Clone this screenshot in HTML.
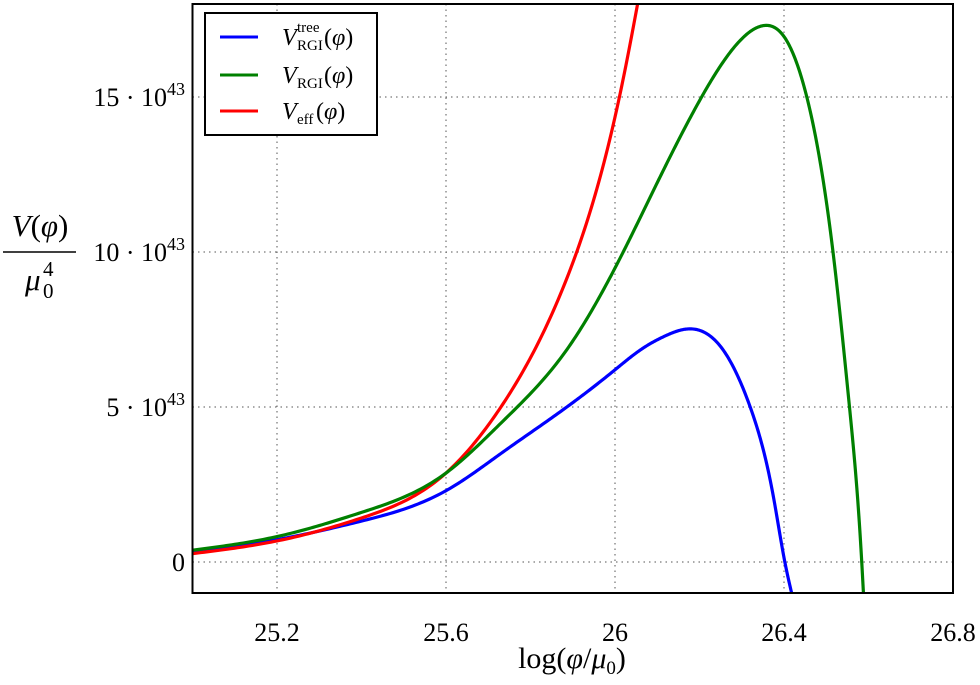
<!DOCTYPE html>
<html><head><meta charset="utf-8"><style>
body{margin:0;background:#fff;}
svg text{font-family:"Liberation Serif",serif;fill:#000;}
</style></head><body>
<svg id="chart" width="980" height="680" xmlns="http://www.w3.org/2000/svg">
<defs><clipPath id="clip"><rect x="192.5" y="4" width="760.5" height="589"/></clipPath></defs>
<g id="grid"></g>
<g id="series" clip-path="url(#clip)"></g>
<rect x="192.5" y="4" width="760.5" height="589" fill="none" stroke="#000" stroke-width="2"/>
<g id="ticks"></g>
<g>
<text x="40" y="236" font-size="31" text-anchor="middle"><tspan font-style="italic">V</tspan>(<tspan font-style="italic">φ</tspan>)</text>
<line x1="3" y1="252" x2="76" y2="252" stroke="#000" stroke-width="1.5"/>
<text x="25" y="290" font-size="31" font-style="italic">μ</text>
<text x="43" y="298" font-size="21">0</text>
<text x="43" y="276" font-size="21">4</text>
</g>
<text x="572" y="668" font-size="30" text-anchor="middle">log(<tspan font-style="italic">φ</tspan>/<tspan font-style="italic">μ</tspan><tspan font-size="19" dy="6">0</tspan><tspan dy="-6">)</tspan></text>
<g>
<rect x="205" y="13" width="172" height="122" fill="#fff" stroke="#000" stroke-width="2"/>
<g><line x1="220" y1="37" x2="258" y2="37" stroke="#0000ff" stroke-width="3"/>
<text x="282" y="45" font-size="24" font-style="italic">V</text>
<text x="297" y="50" font-size="15">RGI</text>
<text x="297" y="32" font-size="15">tree</text>
<text x="324" y="45" font-size="24">(<tspan font-style="italic">φ</tspan>)</text></g>
<g><line x1="220" y1="75" x2="258" y2="75" stroke="#008000" stroke-width="3"/>
<text x="282" y="83" font-size="24" font-style="italic">V</text>
<text x="297" y="88" font-size="15">RGI</text>
<text x="324" y="83" font-size="24">(<tspan font-style="italic">φ</tspan>)</text></g>
<g><line x1="220" y1="111" x2="258" y2="111" stroke="#ff0000" stroke-width="3"/>
<text x="282" y="119" font-size="24" font-style="italic">V</text>
<text x="297" y="124" font-size="15">eff</text>
<text x="316" y="119" font-size="24">(<tspan font-style="italic">φ</tspan>)</text></g>
</g>
</svg>
<script>
const xTicks=[25.2,25.6,26,26.4,26.8];
const xTickLabels=["25.2","25.6","26","26.4","26.8"];
const yTicks=[0,5,10,15];
const yTickLabels=["0","5","10","15"];
const treeX=[25.0,25.2,25.4,25.6,25.73,25.886,26.0,26.06,26.12,26.175,26.256,26.32,26.375,26.402,26.418];
const treeY=[0.3,0.72,1.32,2.3,3.5,5.0,6.2,6.84,7.3,7.52,6.84,5.0,2.1,0,-1];
const rgiX=[25.0,25.2,25.4,25.6,25.73,25.886,26.012,26.107,26.205,26.288,26.35,26.40,26.454,26.516,26.555,26.584,26.588];
const rgiY=[0.38,0.82,1.6,2.87,4.48,6.85,9.8,12.43,15.0,16.7,17.3,16.95,15.0,10.0,5.0,0,-1];
const effX=[25.0,25.2,25.4,25.6,25.73,25.886,26.012,26.08];
const effY=[0.27,0.68,1.42,2.87,5.0,9.15,15.1,20.0];
const X0=25,X1=26.8,Y0=-1,Y1=18,L=192.5,R=953,T=4,B=593;
const sx=v=>L+(v-X0)/(X1-X0)*(R-L);
const sy=v=>B-(v-Y0)/(Y1-Y0)*(B-T);
const NS="http://www.w3.org/2000/svg";
function mk(t,a,p){const e=document.createElementNS(NS,t);for(const k in a)e.setAttribute(k,a[k]);p.appendChild(e);return e;}
const grid=document.getElementById('grid'),ticks=document.getElementById('ticks'),ser=document.getElementById('series');
xTicks.forEach((v,i)=>{
 const g=mk('line',{x1:sx(v),x2:sx(v),y1:T,y2:B,stroke:'#555','stroke-width':1,'stroke-dasharray':'1.5,4'},grid);
 
 
 const t=mk('text',{x:sx(v),y:641,'font-size':26,'text-anchor':'middle'},ticks);
 t.textContent=xTickLabels[i];
 
 
});
yTicks.forEach((v,i)=>{
 const g=mk('line',{x1:L,x2:R,y1:sy(v),y2:sy(v),stroke:'#555','stroke-width':1,'stroke-dasharray':'1.5,4'},grid);
 
 
 const t=mk('text',{x:185,y:sy(v)+9,'font-size':26,'text-anchor':'end'},ticks);
 if(v===0){t.textContent=yTickLabels[i];}
 else{t.innerHTML=yTickLabels[i]+' · 10<tspan font-size="18" dy="-11">43</tspan>';}
 
 
});
function spline(xs,ys){
 const n=xs.length,h=[],al=[0],l=[1],mu=[0],z=[0],c=new Array(n).fill(0),b=[],d=[];
 for(let i=0;i<n-1;i++)h.push(xs[i+1]-xs[i]);
 for(let i=1;i<n-1;i++)al.push(3/h[i]*(ys[i+1]-ys[i])-3/h[i-1]*(ys[i]-ys[i-1]));
 for(let i=1;i<n-1;i++){l[i]=2*(xs[i+1]-xs[i-1])-h[i-1]*mu[i-1];mu[i]=h[i]/l[i];z[i]=(al[i]-h[i-1]*z[i-1])/l[i];}
 for(let j=n-2;j>=0;j--){if(j>0)c[j]=z[j]-mu[j]*c[j+1];b[j]=(ys[j+1]-ys[j])/h[j]-h[j]*(c[j+1]+2*c[j])/3;d[j]=(c[j+1]-c[j])/(3*h[j]);}
 let pts=[];
 for(let j=0;j<n-1;j++){for(let k=0;k<30;k++){const t=h[j]*k/30;pts.push([sx(xs[j]+t),sy(ys[j]+b[j]*t+c[j]*t*t+d[j]*t*t*t)]);}}
 pts.push([sx(xs[n-1]),sy(ys[n-1])]);
 return 'M'+pts.map(p=>p[0].toFixed(2)+','+p[1].toFixed(2)).join(' L');
}
[[treeX,treeY,'#0000ff','tree-curve'],[effX,effY,'#ff0000','eff-curve'],[rgiX,rgiY,'#008000','rgi-curve']].forEach(s=>{
 const e=mk('path',{d:spline(s[0],s[1]),fill:'none',stroke:s[2],'stroke-width':3.2,'stroke-linejoin':'round'},ser);
 
 
});
</script>
</body></html>
